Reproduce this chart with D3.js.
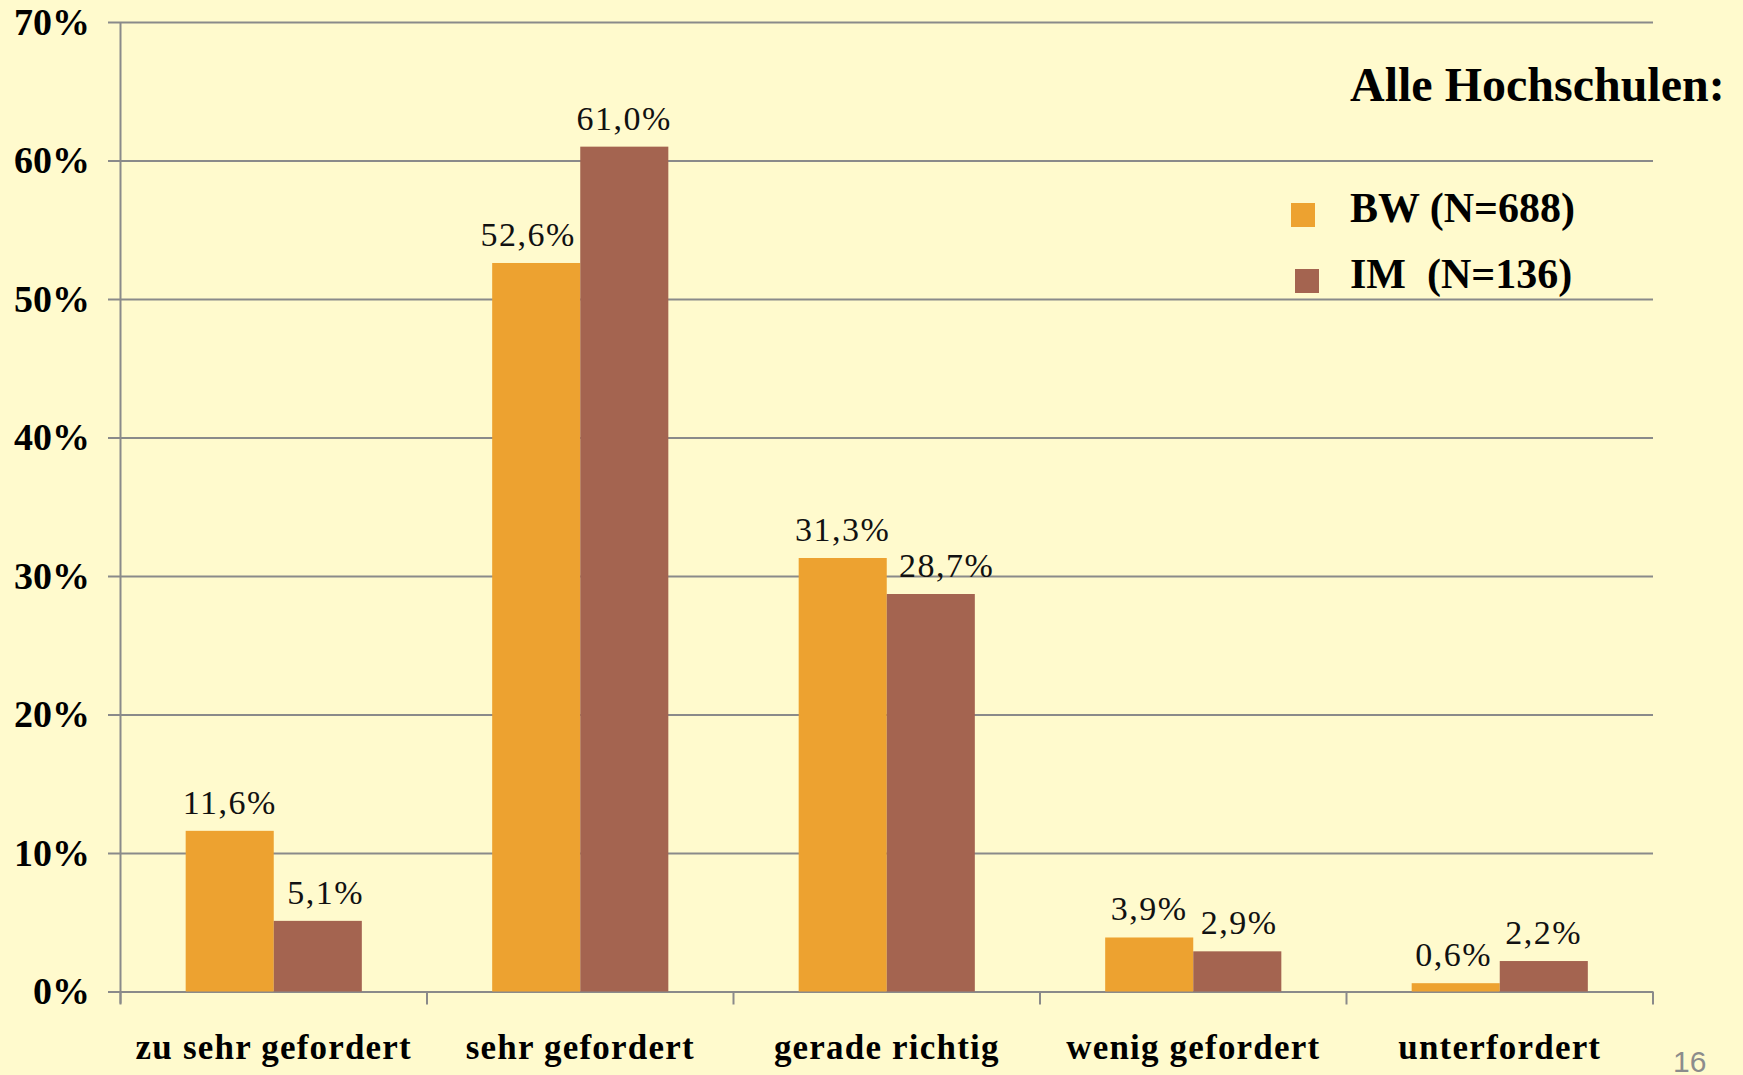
<!DOCTYPE html>
<html>
<head>
<meta charset="utf-8">
<script src="https://cdn.jsdelivr.net/npm/d3@7"></script>
<style>
  html, body { margin: 0; padding: 0; background: #fffacd; }
  svg { display: block; }
  text { font-family: "Times New Roman", "Liberation Serif", serif; }
</style>
</head>
<body>
<div id="chart"></div>
<script>
var categories = ['zu sehr gefordert', 'sehr gefordert', 'gerade richtig', 'wenig gefordert', 'unterfordert'];
var seriesNames = ['BW (N=688)', 'IM  (N=136)'];
var bwValues = [11.6, 52.6, 31.3, 3.9, 0.6];
var imValues = [5.1, 61.0, 28.7, 2.9, 2.2];
var yTicks = [0, 10, 20, 30, 40, 50, 60, 70];
var colors = ['#eda230', '#a46450'];

var svgWidth = 1743;
var svgHeight = 1075;
var plotLeft = 120.5, plotRight = 1653, plotTop = 22, plotBottom = 991.5;

var svg = d3.select('#chart').append('svg')
  .attr('width', svgWidth)
  .attr('height', svgHeight);

svg.append('rect')
  .attr('width', svgWidth)
  .attr('height', svgHeight)
  .attr('fill', '#fffacd');

var yScale = d3.scaleLinear()
  .domain([0, 70])
  .range([plotBottom, plotTop]);

var x0 = d3.scaleBand()
  .domain(categories)
  .range([plotLeft, plotRight])
  .padding(0);

var x1 = d3.scaleBand()
  .domain(seriesNames)
  .range([0, x0.bandwidth()])
  .paddingInner(0)
  .paddingOuter(0.74);

// grid lines + y labels
var yAxis = d3.axisLeft(yScale)
  .tickValues(yTicks)
  .tickSizeInner(plotRight - 108)
  .tickSizeOuter(0)
  .tickPadding(18)
  .tickFormat(function (d) { return d + '%'; });

var gy = svg.append('g')
  .attr('class', 'axis axis--y')
  .attr('transform', 'translate(' + plotRight + ',0)')
  .call(yAxis);
gy.select('.domain').remove();
gy.selectAll('line').attr('stroke', '#8a8a8a').attr('stroke-width', 2);
gy.selectAll('text')
  .attr('font-size', 38)
  .attr('font-weight', 'bold')
  .attr('fill', '#000')
  .style('font-family', '"Times New Roman", "Liberation Serif", serif');

// y axis vertical line
svg.append('line')
  .attr('x1', plotLeft).attr('x2', plotLeft)
  .attr('y1', plotTop).attr('y2', plotBottom + 12)
  .attr('stroke', '#8a8a8a')
  .attr('stroke-width', 2);

// category boundary ticks
var boundaries = categories.map(function (c) { return x0(c); }).concat([plotRight]);
svg.selectAll('.cat-tick')
  .data(boundaries)
  .enter().append('line')
  .attr('class', 'cat-tick')
  .attr('x1', function (d) { return d; })
  .attr('x2', function (d) { return d; })
  .attr('y1', plotBottom)
  .attr('y2', plotBottom + 13)
  .attr('stroke', '#8a8a8a')
  .attr('stroke-width', 2);

// category labels
var xAxis = d3.axisBottom(x0)
  .tickSize(0)
  .tickPadding(43);
var gx = svg.append('g')
  .attr('class', 'axis axis--x')
  .attr('transform', 'translate(0,' + plotBottom + ')')
  .call(xAxis);
gx.select('.domain').remove();
gx.selectAll('text')
  .attr('font-size', 35)
  .attr('font-weight', 'bold')
  .attr('fill', '#000')
  .attr('letter-spacing', 1.2)
  .style('font-family', '"Times New Roman", "Liberation Serif", serif');

// bars
var rows = categories.map(function (c, i) {
  return { cat: c, vals: [bwValues[i], imValues[i]] };
});

var groups = svg.selectAll('.group')
  .data(rows)
  .enter().append('g')
  .attr('class', 'group')
  .attr('transform', function (d) { return 'translate(' + x0(d.cat) + ',0)'; });

groups.selectAll('rect')
  .data(function (d) {
    return d.vals.map(function (v, j) { return { name: seriesNames[j], value: v, idx: j }; });
  })
  .enter().append('rect')
  .attr('x', function (d) { return x1(d.name); })
  .attr('width', x1.bandwidth())
  .attr('y', function (d) { return yScale(d.value); })
  .attr('height', function (d) { return plotBottom - yScale(d.value); })
  .attr('fill', function (d) { return colors[d.idx]; });

// value labels
var labelShift = [[0, 8], [-8, 0], [0, 16], [0, 2], [-2, 0]];
groups.each(function (row, i) {
  d3.select(this).selectAll('.val')
    .data(row.vals)
    .enter().append('text')
    .attr('class', 'val')
    .attr('x', function (v, j) { return x1(seriesNames[j]) + x1.bandwidth() / 2 + labelShift[i][j]; })
    .attr('y', function (v) { return yScale(v) - 17; })
    .attr('text-anchor', 'middle')
    .attr('font-size', 34)
    .attr('letter-spacing', 1.5)
    .attr('fill', '#111')
    .text(function (v) { return v.toFixed(1).replace('.', ',') + '%'; });
});

// legend
svg.append('text')
  .attr('x', 1350)
  .attr('y', 101)
  .attr('font-size', 48)
  .attr('font-weight', 'bold')
  .text('Alle Hochschulen:');

var legendY = [222, 288];
var legendSquareX = [1291, 1295];
seriesNames.forEach(function (name, i) {
  svg.append('rect')
    .attr('x', legendSquareX[i])
    .attr('y', legendY[i] - 19)
    .attr('width', 24)
    .attr('height', 24)
    .attr('fill', colors[i]);
  svg.append('text')
    .attr('x', 1350)
    .attr('y', legendY[i])
    .attr('font-size', 42)
    .attr('font-weight', 'bold')
    .style('white-space', 'pre')
    .text(name);
});

// page number
svg.append('text')
  .attr('x', 1673)
  .attr('y', 1072)
  .attr('font-size', 30)
  .attr('fill', '#8c8c8c')
  .style('font-family', 'Arial, "Liberation Sans", sans-serif')
  .text('16');
</script>
</body>
</html>
